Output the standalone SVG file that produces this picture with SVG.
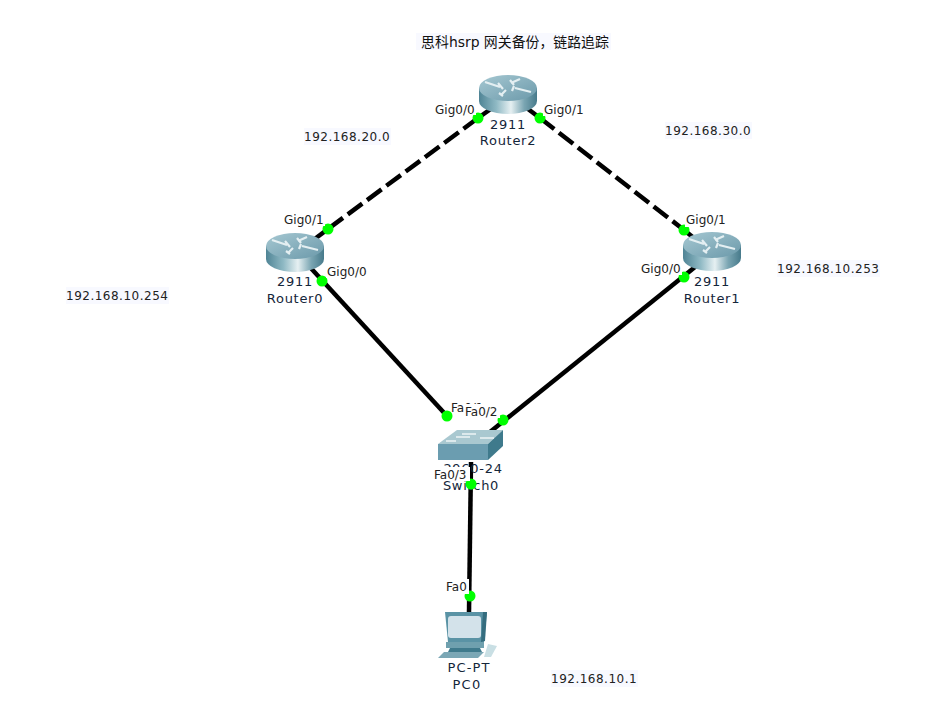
<svg xmlns="http://www.w3.org/2000/svg" width="937" height="722" viewBox="0 0 937 722">
<style>
text{font-family:"DejaVu Sans","Noto Sans CJK SC",sans-serif;font-size:12px;fill:#111}
.m{text-anchor:middle}
.name{font-size:13px;letter-spacing:.7px;fill:#14263a}
.ip{letter-spacing:.5px;fill:#222}
.port{fill:#222}
.link{stroke:#000;stroke-width:4.500;fill:none}
.dash{stroke-dasharray:18 6}
.dot{fill:#0f0}
.bg{fill:#fff}
.tint{fill:#f8f9ff}
</style>
<defs>
<linearGradient id="side" x1="0" x2="1" y1="0" y2="0">
<stop offset="0" stop-color="#4f8495"/><stop offset=".3" stop-color="#8fb9c4"/><stop offset=".55" stop-color="#e6f0f2"/><stop offset=".78" stop-color="#7aa5b2"/><stop offset="1" stop-color="#477a8b"/>
</linearGradient>
<linearGradient id="top" x1="0" x2="1" y1="0" y2="1">
<stop offset="0" stop-color="#a6c8d2"/><stop offset="1" stop-color="#6b99aa"/>
</linearGradient>
<g id="router">
<path d="M0 13V26A29 13 0 0 0 58 26V13Z" fill="url(#side)"/>
<ellipse cx="29" cy="13" rx="29" ry="13" fill="url(#top)"/>
<path d="M6 7L21 12M19 8L24 14M32 8L41 4M31 5L35 10M36 13L52 17M35 11L33 16M22 20L27 15M24 21L20 18" stroke="#e4eff2" stroke-width="2.200" fill="none"/>
</g>
</defs>
<rect class="tint" x="416" y="33" width="195" height="17"/>
<text id="title" x="515" y="47" class="m" style="font-size:13.900px">思科hsrp 网关备份，链路追踪</text>
<g id="connectors">
<path class="link dash" d="M478 118L328 229"/>
<path class="link dash" d="M540 118L684 230"/>
<path class="link" d="M328 229L312 241"/>
<path class="link" d="M684 230L700 243"/>
<path class="link" d="M478 118L495 106"/>
<path class="link" d="M540 118L524 106"/>
<path class="link" d="M308 265L447 416"/>
<path class="link" d="M700 263L490 432"/>
<path class="link" d="M471 462L469 612"/>
</g>
<g id="router2"><use href="#router" x="479" y="75"/><text class="name m" x="508" y="129">2911</text><text class="name m" x="508" y="145">Router2</text></g>
<g id="router0"><use href="#router" x="266" y="233"/><text class="name m" x="295" y="286">2911</text><text class="name m" x="295" y="303">Router0</text></g>
<g id="router1"><use href="#router" x="683" y="232"/><text class="name m" x="712" y="286">2911</text><text class="name m" x="712" y="303">Router1</text></g>
<g id="switch0">
<path d="M457 430H503L488 444H438Z" fill="#a9c8d0"/>
<path d="M438 444H488V460H438Z" fill="#6b9db0"/>
<path d="M488 444L503 430V446L488 460Z" fill="#3f7a8c"/>
<path d="M446 441L456 441M462 434L476 434M480 438L494 438M456 437L470 437" stroke="#dce9ec" stroke-width="2" fill="none"/>
<text class="name m" x="473" y="473">2960-24</text>
<text class="name m" x="471" y="490">Switch0</text>
</g>
<g id="pc0">
<path d="M445 612H487L484 642H448Z" fill="#5a93a5"/>
<path d="M483 612H487L485 641L481 642Z" fill="#356d7f"/>
<rect x="448" y="616" width="33" height="22" rx="3" fill="#d3e2ea"/>
<path d="M446 642H484V648H446Z" fill="#6fa0ae"/>
<path d="M450 648H480L482 652H448Z" fill="#3f7a8c"/>
<path d="M444 652H484L478 658H438Z" fill="#7ba7b5"/>
<path d="M488 644L497 646L491 657H484Z" fill="#c9dfe4"/>
<text class="name m" x="469" y="672" style="letter-spacing:1.100px">PC-PT</text>
<text class="name m" x="467" y="689" style="letter-spacing:1.300px">PC0</text>
</g>
<g id="ports">
<circle class="dot" cx="478" cy="118" r="5.500"/><circle class="dot" cx="540" cy="118" r="5.500"/>
<circle class="dot" cx="328" cy="229" r="5.500"/><circle class="dot" cx="684" cy="230" r="5.500"/>
<circle class="dot" cx="322" cy="281" r="5.500"/><circle class="dot" cx="684" cy="277" r="5.500"/>
<circle class="dot" cx="447" cy="416" r="5.500"/><circle class="dot" cx="503" cy="420" r="5.500"/>
<circle class="dot" cx="471" cy="484" r="5.500"/><circle class="dot" cx="470" cy="596" r="5.500"/>
<rect class="bg" x="434" y="102" width="42" height="13"/><text class="port" x="435" y="114">Gig0/0</text>
<rect class="bg" x="543" y="102" width="42" height="14"/><text class="port" x="544" y="114">Gig0/1</text>
<rect class="bg" x="283" y="212" width="42" height="14"/><text class="port" x="284" y="224">Gig0/1</text>
<rect class="bg" x="685" y="212" width="42" height="15"/><text class="port" x="686" y="224">Gig0/1</text>
<rect class="bg" x="326" y="264" width="42" height="14"/><text class="port" x="327" y="276">Gig0/0</text>
<rect class="bg" x="640" y="261" width="42" height="14"/><text class="port" x="641" y="273">Gig0/0</text>
<text class="port" x="451" y="412">Fa0/1</text>
<rect class="bg" x="464" y="404" width="36" height="14"/><text class="port" x="465" y="416">Fa0/2</text>
<rect class="bg" x="434" y="467" width="36" height="14"/><text class="port" x="434" y="479">Fa0/3</text>
<rect class="bg" x="446" y="579" width="23" height="15"/><text class="port" x="446" y="591">Fa0</text>
</g>
<g id="notes">
<rect class="tint" x="304" y="128" width="87" height="17"/><text class="ip" x="304" y="141">192.168.20.0</text>
<rect class="tint" x="665" y="122" width="87" height="17"/><text class="ip" x="665" y="135">192.168.30.0</text>
<rect class="tint" x="777" y="260" width="103" height="17"/><text class="ip" x="777" y="273">192.168.10.253</text>
<rect class="tint" x="66" y="287" width="103" height="17"/><text class="ip" x="66" y="300">192.168.10.254</text>
<rect class="tint" x="551" y="670" width="87" height="17"/><text class="ip" x="551" y="683">192.168.10.1</text>
</g>
</svg>
